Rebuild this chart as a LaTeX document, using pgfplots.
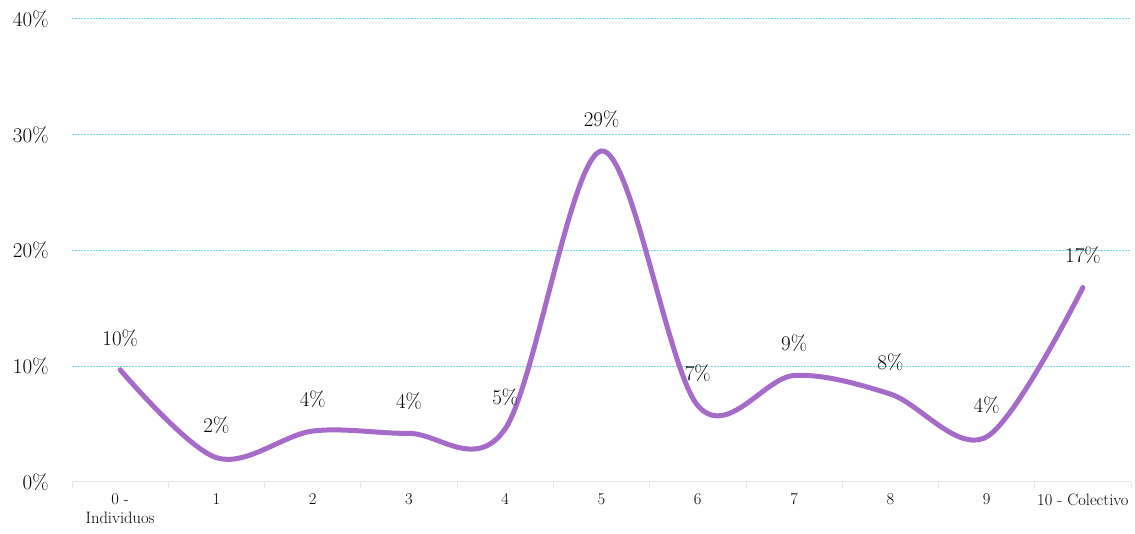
\documentclass[border=0pt]{standalone}
\usepackage{pgfplots}
\pgfplotsset{compat=1.18}
\usepackage{pgfplotstable}
\definecolor{gridblue}{HTML}{72D4F0}
\definecolor{linepurple}{HTML}{A66BC9}
\definecolor{axisgray}{HTML}{E6E6E6}
\pgfplotstableread{
x y lab
0 9.7 10\%
1 2.1 2\%
2 4.4 4\%
3 4.2 4\%
4 4.6 5\%
5 28.6 29\%
6 6.6 7\%
7 9.2 9\%
8 7.6 8\%
9 3.9 4\%
10 16.8 17\%
}\datatable
\begin{document}
\begin{tikzpicture}
\path[use as bounding box] (0,0) rectangle (1135pt,534pt);
\begin{axis}[
  at={(72pt,52pt)}, anchor=south west,
  scale only axis,
  width=1059pt, height=463pt,
  xmin=-0.5, xmax=10.5,
  ymin=0, ymax=40,
  ytick={10,20,30,40},
  extra y ticks={0},
  extra y tick style={grid=none},
  yticklabel={\pgfmathprintnumber{\tick}\%},
  /pgf/number format/assume math mode=true,
  yticklabel style={font=\fontsize{21}{24}\selectfont, xshift=-20pt},
  xtick={0,...,10},
  xticklabels={{0 -\\Individuos},1,2,3,4,5,6,7,8,9,{10 - Colectivo}},
  xticklabel style={font=\fontsize{16.5}{19}\selectfont, align=center, yshift=-8pt},
  minor xtick={-0.5,0.5,...,10.5},
  major tick length=0pt,
  minor tick length=6pt,
  minor tick style={axisgray, line width=0.8pt},
  xtick pos=bottom,
  ytick pos=left,
  tick align=outside,
  ytick style={draw=none},
  ymajorgrids=true,
  major grid style={gridblue, dash pattern=on 2pt off 1pt, line width=1pt},
  axis x line*=bottom,
  axis y line*=left,
  y axis line style={draw=none},
  x axis line style={axisgray, line width=1pt, -},
  clip=false,
]
\addplot[linepurple, line width=5pt, smooth, tension=0.55, line cap=round,
  nodes near coords, point meta=explicit symbolic,
  every node near coord/.style={anchor=center, yshift=32pt, text=black, font=\fontsize{21}{24}\selectfont}]
  table[x=x, y=y, meta=lab] {\datatable};
\end{axis}
\end{tikzpicture}
\end{document}
